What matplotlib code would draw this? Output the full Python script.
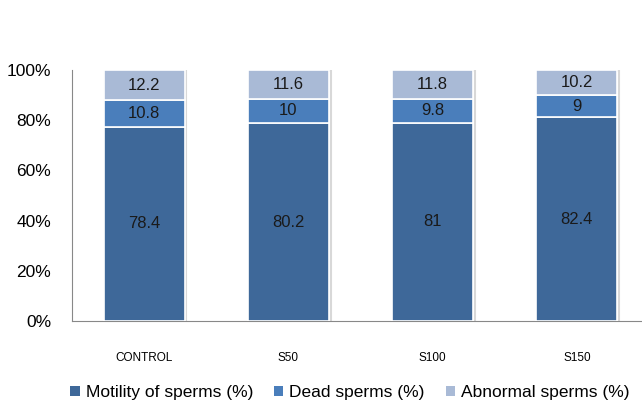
import numpy as np
import matplotlib.pyplot as plt
from matplotlib.patches import Patch

groups = ['CONTROL', 'S50', 'S100', 'S150']
motility = [78.4, 80.2, 81, 82.4]
dead = [10.8, 10, 9.8, 9]
abnormal = [12.2, 11.6, 11.8, 10.2]
series_names = ['Motility of sperms (%)', 'Dead sperms (%)', 'Abnormal sperms (%)']
series_cols = ['#3E6899', '#4A7EBB', '#A9BAD6']
y_ticks = [0, 20, 40, 60, 80, 100]

plt.rcParams['font.family'] = ['Liberation Sans', 'DejaVu Sans']

fig = plt.figure(figsize=(6.42, 4.11), dpi=100)
ax = fig.add_axes([72 / 642, 90 / 411, 577 / 642, 251 / 411])

vals = np.array([motility, dead, abnormal], dtype=float)
pct = vals / vals.sum(axis=0) * 100
x = np.arange(len(groups))
bottom = np.zeros(len(groups))
for i in range(3):
    ax.bar(x, pct[i], 0.5625, bottom=bottom, color=series_cols[i],
           edgecolor='white', linewidth=1.2, zorder=3)
    for j in range(len(groups)):
        ax.text(x[j], bottom[j] + pct[i][j] / 2, f'{vals[i][j]:g}',
                ha='center', va='center', fontsize=12, color='#1a1a1a', zorder=4)
    bottom += pct[i]

# light shadow frame around each bar
for j in range(len(groups)):
    ax.bar(x[j] + 0.012, 100, 0.5625, bottom=-0.4, color='none',
           edgecolor='#d8d8d8', linewidth=1.5, zorder=2)

ax.set_xlim(-0.5, 3.5)
ax.set_ylim(0, 100)
ax.set_yticks(y_ticks)
ax.set_yticklabels([f'{t}%' for t in y_ticks], fontsize=12.5)
ax.set_xticks(x)
ax.set_xticklabels(groups, fontsize=8.5)
ax.tick_params(axis='both', length=0)
ax.tick_params(axis='x', pad=22)
ax.tick_params(axis='y', pad=15)
for s in ['top', 'right']:
    ax.spines[s].set_visible(False)
ax.spines['left'].set_color('#888888')
ax.spines['bottom'].set_color('#888888')

handles = [Patch(facecolor=c, edgecolor='none') for c in series_cols]
fig.legend(handles, series_names, loc='center', bbox_to_anchor=(0.545, 0.045),
           ncol=3, frameon=False, fontsize=12.5, handlelength=0.55, handleheight=0.55,
           handletextpad=0.35, columnspacing=1.2)

fig.savefig('out.png', dpi=100)
